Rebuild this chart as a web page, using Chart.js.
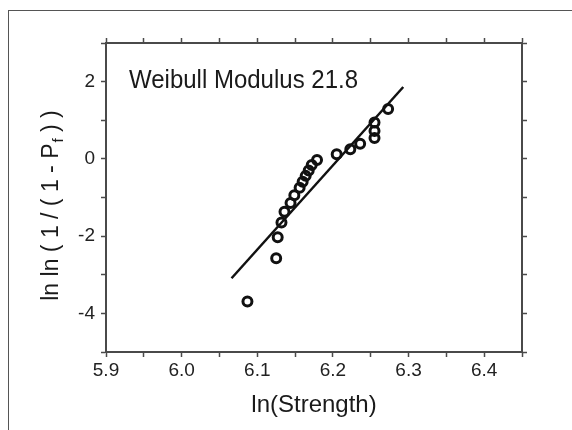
<!DOCTYPE html>
<html>
<head>
<meta charset="utf-8">
<script src="https://cdn.jsdelivr.net/npm/chart.js@4.4.1/dist/chart.umd.min.js"></script>
<style>
  body { margin: 0; background: #fff; }
  #wrap { position: relative; width: 572px; height: 430px; }
  #frame { position: absolute; left: 8px; top: 10px; right: 0; bottom: 0;
           border-top: 1.5px solid #555; border-left: 1.5px solid #555; }
  #weibull { position: absolute; left: 0; top: 0; }
</style>
</head>
<body>
<div id="wrap">
  <div id="frame"></div>
  <canvas id="weibull" width="572" height="430"></canvas>
</div>
<script>
// measured points: ln(strength) vs ln ln(1/(1-Pf))
var lnStrength = [6.087, 6.125, 6.127, 6.132, 6.136, 6.144, 6.149, 6.156, 6.160, 6.164,
                  6.168, 6.172, 6.179, 6.205, 6.223, 6.236, 6.255, 6.255, 6.255, 6.273];
var lnlnPf = [-3.69, -2.57, -2.03, -1.65, -1.37, -1.14, -0.94, -0.75, -0.59, -0.44,
              -0.30, -0.16, -0.03, 0.12, 0.25, 0.39, 0.54, 0.72, 0.94, 1.29];

// fitted line end points
var fitX = [6.066, 6.293];
var fitY = [-3.09, 1.86];

var xTicksMajor = [5.9, 6.0, 6.1, 6.2, 6.3, 6.4];
var yTicksMajor = [-4, -2, 0, 2];

var titulo = 'Weibull Modulus 21.8';
var tituloX = 'ln(Strength)';
var tituloY = ['ln ln ( 1 / ( 1 - P', 'f', ' ) )'];

var FONTE = '"Liberation Sans", Arial, sans-serif';
var CINZA = '#4a4a4a';

function montarPontos(xs, ys) {
    var pts = [];
    for (var i = 0; i < xs.length; i++) {
        pts.push({ x: xs[i], y: ys[i] });
    }
    return pts;
}

function ehMaior(lista, v) {
    for (var i = 0; i < lista.length; i++) {
        if (Math.abs(lista[i] - v) < 1e-6) return true;
    }
    return false;
}

// texts that Chart.js can't place itself (subscript, inside title)
var textosPlugin = {
    id: 'textos',
    afterDraw: function (chart) {
        var ctx = chart.ctx;
        ctx.save();
        ctx.fillStyle = '#1a1a1a';
        ctx.textBaseline = 'alphabetic';

        ctx.font = '24px ' + FONTE;
        ctx.textAlign = 'left';
        ctx.save();
        ctx.translate(129, 88);
        ctx.scale(1, 1.1);
        ctx.fillText(titulo, 0, 0);
        ctx.restore();

        ctx.textAlign = 'center';
        ctx.font = '24px ' + FONTE;
        ctx.fillText(tituloX, 314, 412);

        // rotated y title with subscript f
        ctx.translate(58, 206);
        ctx.rotate(-Math.PI / 2);
        ctx.textAlign = 'left';
        ctx.font = '23px ' + FONTE;
        var w1 = ctx.measureText(tituloY[0]).width;
        var w3 = ctx.measureText(tituloY[2]).width;
        ctx.font = '15px ' + FONTE;
        var w2 = ctx.measureText(tituloY[1]).width;
        var x0 = -(w1 + w2 + w3) / 2;
        ctx.font = '23px ' + FONTE;
        ctx.fillText(tituloY[0], x0, 0);
        ctx.font = '15px ' + FONTE;
        ctx.fillText(tituloY[1], x0 + w1 + 1, 5);
        ctx.font = '23px ' + FONTE;
        ctx.fillText(tituloY[2], x0 + w1 + w2 + 1, 0);
        ctx.restore();
    }
};

function eixoBase(extra) {
    var base = {
        type: 'linear',
        border: { display: true, color: CINZA, width: 2 },
        grid: { drawOnChartArea: false, drawTicks: true, tickLength: 5, tickColor: CINZA, tickWidth: 1.5 }
    };
    for (var k in extra) base[k] = extra[k];
    return base;
}

var grafico = new Chart(document.getElementById('weibull'), {
    type: 'scatter',
    data: {
        datasets: [{
            label: 'dados',
            data: montarPontos(lnStrength, lnlnPf),
            pointStyle: 'circle',
            pointRadius: 4.5,
            pointHoverRadius: 4.5,
            borderColor: '#111',
            backgroundColor: 'rgba(0,0,0,0)',
            borderWidth: 3,
            order: 1
        }, {
            type: 'line',
            label: 'ajuste',
            data: montarPontos(fitX, fitY),
            borderColor: '#111',
            borderWidth: 2.5,
            pointRadius: 0,
            fill: false,
            order: 2
        }]
    },
    options: {
        responsive: false,
        animation: false,
        layout: { padding: 0 },
        plugins: {
            legend: { display: false },
            tooltip: { enabled: false }
        },
        scales: {
            x: eixoBase({
                position: 'bottom',
                min: 5.9,
                max: 6.45,
                afterFit: function (s) { s.height = 78; },
                ticks: {
                    stepSize: 0.05,
                    autoSkip: false,
                    maxRotation: 0,
                    padding: 2,
                    color: '#222',
                    font: { family: FONTE, size: 19 },
                    callback: function (v) {
                        return ehMaior(xTicksMajor, v) ? v.toFixed(1) : '';
                    }
                }
            }),
            x2: eixoBase({
                position: 'top',
                min: 5.9,
                max: 6.45,
                afterFit: function (s) { s.height = 43; },
                ticks: { display: false, stepSize: 0.05, autoSkip: false }
            }),
            y: eixoBase({
                position: 'left',
                min: -5,
                max: 3,
                afterFit: function (s) { s.width = 106; },
                ticks: {
                    stepSize: 1,
                    autoSkip: false,
                    padding: 6,
                    color: '#222',
                    font: { family: FONTE, size: 19 },
                    callback: function (v) {
                        return ehMaior(yTicksMajor, v) ? String(Math.round(v)) : '';
                    }
                }
            }),
            y2: eixoBase({
                position: 'right',
                min: -5,
                max: 3,
                afterFit: function (s) { s.width = 50; },
                ticks: { display: false, stepSize: 1, autoSkip: false }
            })
        }
    },
    plugins: [textosPlugin]
});
</script>
</body>
</html>
